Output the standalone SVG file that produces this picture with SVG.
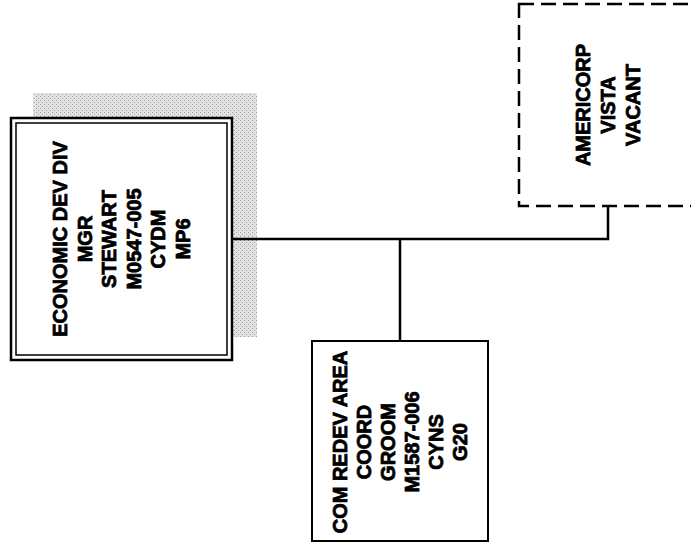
<svg xmlns="http://www.w3.org/2000/svg" width="691" height="548" viewBox="0 0 691 548">
<style>
.t{font-family:"Liberation Sans",Arial,sans-serif;font-weight:bold;font-size:20px;fill:#000;stroke:#000;stroke-width:0.8;text-anchor:middle}
.box{fill:#fff;stroke:#000;stroke-width:2}
.con{fill:none;stroke:#000;stroke-width:2.5}
</style>
<defs>
<pattern id="stip" width="4" height="4" patternUnits="userSpaceOnUse">
<rect width="4" height="4" fill="#e2e2e2"/>
<rect x="0" y="0" width="1" height="1" fill="#9a9a9a"/>
<rect x="2" y="2" width="1" height="1" fill="#a8a8a8"/>
</pattern>
</defs>
<rect width="691" height="548" fill="#fff"/>
<g id="connectors">
<polyline class="con" points="232,239 608,239 608,206"/>
<line class="con" x1="400" y1="239" x2="400" y2="341"/>
</g>
<g id="economic-dev-div">
<rect x="33" y="93" width="224" height="244" fill="url(#stip)"/>
<line class="con" x1="232" y1="239" x2="257" y2="239"/>
<rect x="11" y="118" width="221" height="242" fill="#fff" stroke="#000" stroke-width="2.5"/>
<rect x="16" y="123" width="211" height="232" fill="none" stroke="#000" stroke-width="1.5"/>
<g transform="translate(121,239) rotate(-90)" class="t">
<text x="0" y="-54">ECONOMIC DEV DIV</text>
<text x="0" y="-29.5">MGR</text>
<text x="0" y="-5">STEWART</text>
<text x="0" y="19.5">M0547-005</text>
<text x="0" y="44">CYDM</text>
<text x="0" y="68.5">MP6</text>
</g>
</g>
<g id="com-redev-area">
<rect class="box" x="312" y="341" width="176" height="200"/>
<g transform="translate(400,442) rotate(-90)" class="t">
<text x="0" y="-53">COM REDEV AREA</text>
<text x="0" y="-29">COORD</text>
<text x="0" y="-5">GROOM</text>
<text x="0" y="19">M1587-006</text>
<text x="0" y="43">CYNS</text>
<text x="0" y="67">G20</text>
</g>
</g>
<g id="americorp-vista">
<rect x="519" y="4" width="190" height="202" fill="#fff" stroke="#000" stroke-width="2.5" stroke-dasharray="15 7"/>
<g transform="translate(607.5,105) rotate(-90)" class="t">
<text x="0" y="-17.5">AMERICORP</text>
<text x="0" y="7.5">VISTA</text>
<text x="0" y="32.5">VACANT</text>
</g>
</g>
</svg>
